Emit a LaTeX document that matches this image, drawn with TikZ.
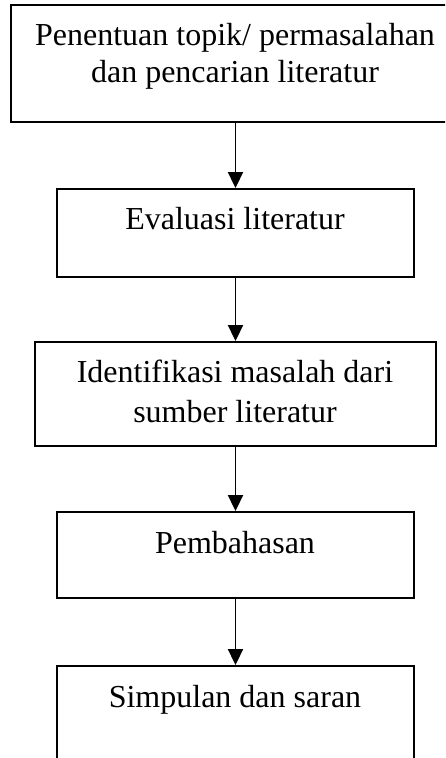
\documentclass[tikz,border=0pt]{standalone}
\usepackage{fontspec}
\setmainfont{Liberation Serif}
\usetikzlibrary{arrows.meta}
\begin{document}
\begin{tikzpicture}[x=1pt,y=-1pt,
  box/.style={draw, line width=1.9pt, inner sep=0pt},
  txt/.style={font=\fontsize{32}{37}\selectfont, anchor=base, inner sep=0pt},
  flow/.style={-{Triangle[width=15pt,length=16pt]}, line width=1.9pt}]
\useasboundingbox (0,0) rectangle (445,758);
\clip (0,0) rectangle (445,758);
\node[box, minimum width=449pt, minimum height=117pt] (b1) at (235.5,63.5) {};
\node[box, minimum width=357pt, minimum height=88pt] (b2) at (235.5,233) {};
\node[box, minimum width=401pt, minimum height=104pt] (b3) at (235.5,394) {};
\node[box, minimum width=357pt, minimum height=86pt] (b4) at (235.5,555) {};
\node[box, minimum width=357pt, minimum height=134pt] (b5) at (235.5,733) {};
\node[txt] (t1a) at (235,45) {Penentuan topik/ permasalahan};
\node[txt] (t1b) at (235,82) {dan pencarian literatur};
\node[txt] (t2) at (235,229) {Evaluasi literatur};
\node[txt] (t3a) at (235,382) {Identifikasi masalah dari};
\node[txt] (t3b) at (235,422) {sumber literatur};
\node[txt] (t4) at (235,553) {Pembahasan};
\node[txt] (t5) at (235,707) {Simpulan dan saran};
\draw[flow] (b1.south) -- (b2.north);
\draw[flow] (b2.south) -- (b3.north);
\draw[flow] (b3.south) -- (b4.north);
\draw[flow] (b4.south) -- (b5.north);
\end{tikzpicture}
\end{document}
